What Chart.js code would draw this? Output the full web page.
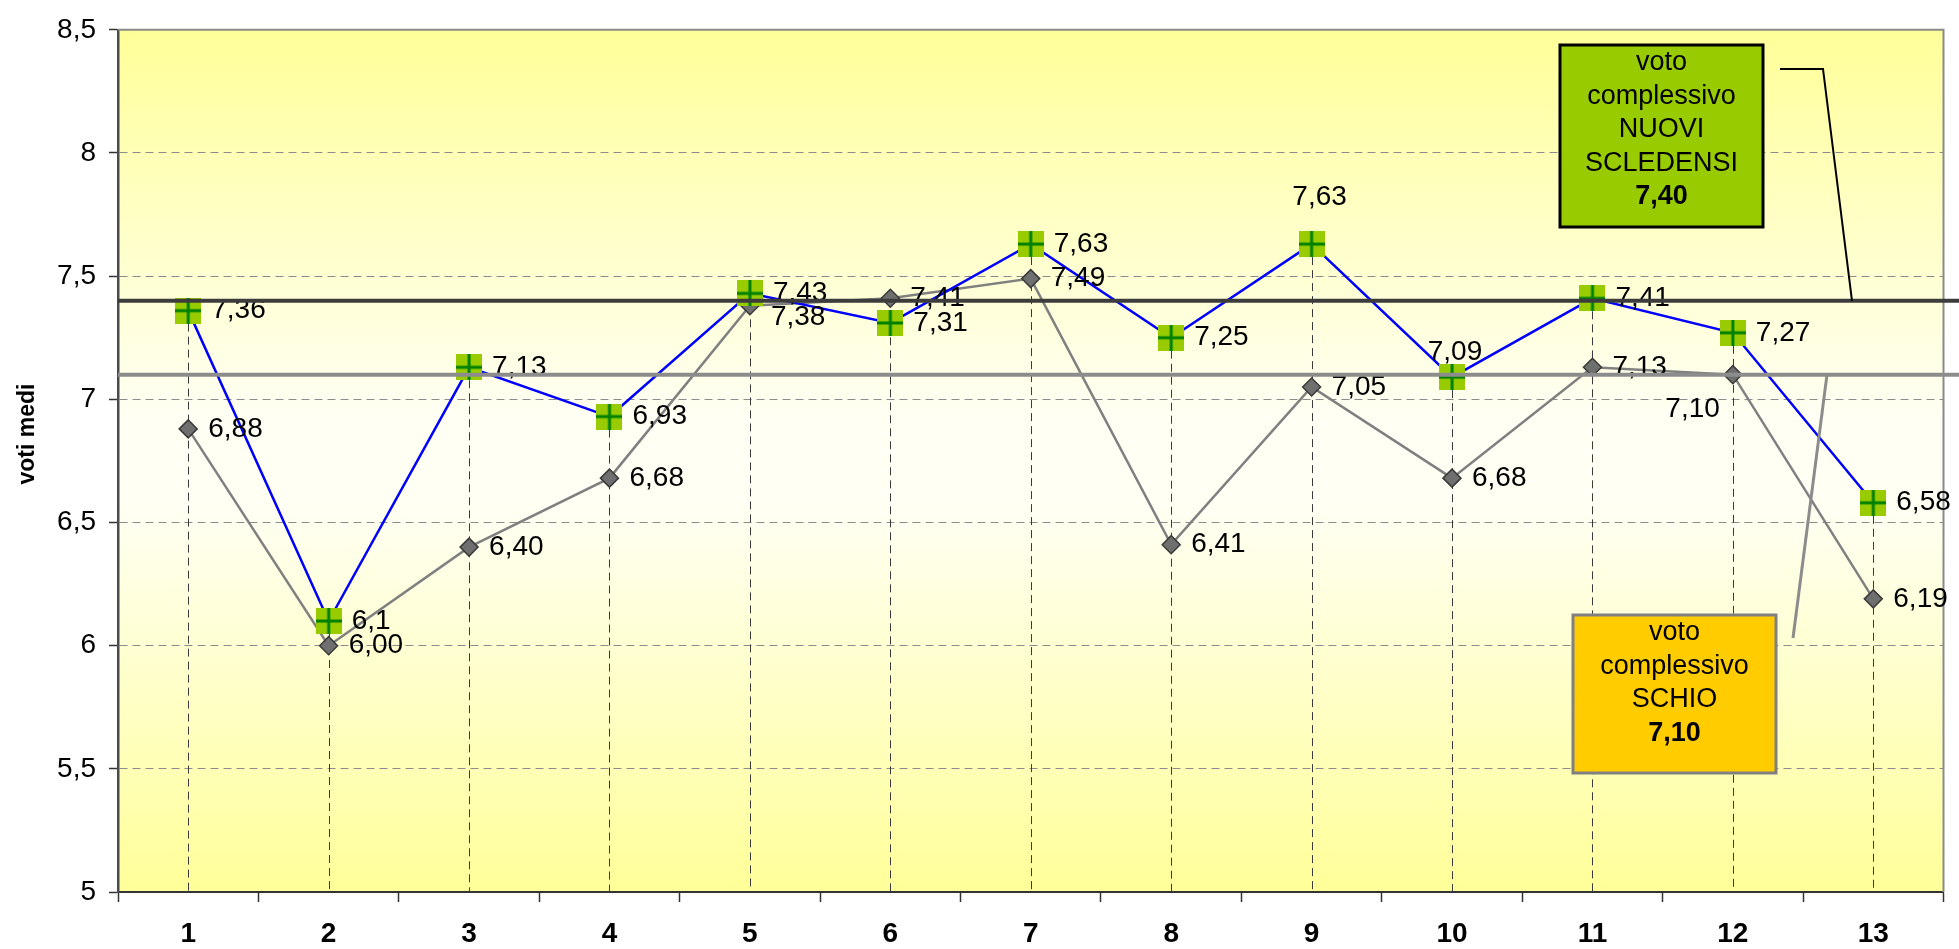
<!DOCTYPE html>
<html lang="it">
<head>
<meta charset="UTF-8">
<title>Voti medi</title>
<script src="https://cdn.jsdelivr.net/npm/chart.js@4.4.1/dist/chart.umd.min.js"></script>
<style>
  html, body { margin: 0; padding: 0; background: #fff; }
  canvas { display: block; }
</style>
</head>
<body>
<canvas id="chart" width="1959" height="949"></canvas>
<script>
const categories = ['1', '2', '3', '4', '5', '6', '7', '8', '9', '10', '11', '12', '13'];
const nuoviScledensi = [7.36, 6.1, 7.13, 6.93, 7.43, 7.31, 7.63, 7.25, 7.63, 7.09, 7.41, 7.27, 6.58];
const schio = [6.88, 6.00, 6.40, 6.68, 7.38, 7.41, 7.49, 6.41, 7.05, 6.68, 7.13, 7.10, 6.19];
const mediaNuovi = 7.40;
const mediaSchio = 7.10;

const FONT = '"Liberation Sans", Arial, sans-serif';
const comma = v => String(v).replace('.', ',');
const comma2 = v => v.toFixed(2).replace('.', ',');

// green square with dark green cross
function plusMarker() {
    const c = document.createElement('canvas');
    c.width = 26; c.height = 26;
    const g = c.getContext('2d');
    g.fillStyle = '#99cc00';
    g.fillRect(0, 0, 26, 26);
    g.fillStyle = '#008000';
    g.fillRect(11.5, 0, 3, 26);
    g.fillRect(0, 11.5, 26, 3);
    return c;
}

const plotBackground = {
    id: 'plotBackground',
    beforeDraw(chart) {
        const { ctx, chartArea: a } = chart;
        const grad = ctx.createLinearGradient(0, a.top, 0, a.bottom);
        grad.addColorStop(0, '#ffff99');
        grad.addColorStop(0.45, '#fffff4');
        grad.addColorStop(0.55, '#fffff4');
        grad.addColorStop(1, '#ffff99');
        ctx.save();
        ctx.fillStyle = grad;
        ctx.fillRect(a.left, a.top, a.right - a.left, a.bottom - a.top);
        ctx.restore();
    }
};

// frame on top/right and dashed drop lines from the highest point of each category
const dropLines = {
    id: 'dropLines',
    beforeDatasetsDraw(chart) {
        const { ctx, chartArea: a, scales: { x, y } } = chart;
        ctx.save();
        ctx.strokeStyle = '#8a8a8a';
        ctx.lineWidth = 2;
        ctx.beginPath();
        ctx.moveTo(a.left, a.top);
        ctx.lineTo(a.right, a.top);
        ctx.lineTo(a.right, a.bottom);
        ctx.stroke();

        ctx.strokeStyle = '#3a3a3a';
        ctx.lineWidth = 1;
        ctx.setLineDash([8, 5]);
        categories.forEach((c, i) => {
            const px = Math.round(x.getPixelForValue(i)) + 0.5;
            const top = y.getPixelForValue(Math.max(nuoviScledensi[i], schio[i]));
            ctx.beginPath();
            ctx.moveTo(px, top);
            ctx.lineTo(px, a.bottom);
            ctx.stroke();
        });
        ctx.restore();
    }
};

const pointLabels = {
    id: 'pointLabels',
    afterDatasetsDraw(chart) {
        const { ctx } = chart;
        const special = {
            0: { 8: ['center', 8, -47], 9: ['center', 3, -25] },
            1: { 4: ['left', 21, 12], 11: ['right', -13, 35] }
        };
        ctx.save();
        ctx.font = '28px ' + FONT;
        ctx.fillStyle = '#000';
        ctx.textBaseline = 'middle';
        chart.data.datasets.forEach((ds, di) => {
            const meta = chart.getDatasetMeta(di);
            const dx = di === 0 ? 23 : 20;
            meta.data.forEach((pt, i) => {
                const txt = di === 0 ? comma(ds.data[i]) : comma2(ds.data[i]);
                const s = special[di][i];
                if (s) {
                    ctx.textAlign = s[0];
                    ctx.fillText(txt, pt.x + s[1], pt.y + s[2]);
                } else {
                    ctx.textAlign = 'left';
                    ctx.fillText(txt, pt.x + dx, pt.y);
                }
            });
        });
        ctx.restore();
    }
};

function drawBox(ctx, x, y, w, h, fill, stroke, lines) {
    ctx.fillStyle = fill;
    ctx.fillRect(x, y, w, h);
    ctx.strokeStyle = stroke;
    ctx.lineWidth = 3;
    ctx.strokeRect(x, y, w, h);
    ctx.fillStyle = '#000';
    ctx.textAlign = 'center';
    ctx.textBaseline = 'middle';
    lines.forEach((ln, i) => {
        ctx.font = (i === lines.length - 1 ? 'bold ' : '') + '27px ' + FONT;
        ctx.fillText(ln, x + w / 2, y + 18 + i * 33.5);
    });
}

// average lines, callout boxes and axis title
const averages = {
    id: 'averages',
    afterDraw(chart) {
        const { ctx, chartArea: a, scales: { y }, width } = chart;
        const yN = y.getPixelForValue(mediaNuovi);
        const yS = y.getPixelForValue(mediaSchio);
        ctx.save();
        ctx.lineWidth = 4;
        ctx.strokeStyle = '#3c3c3c';
        ctx.beginPath(); ctx.moveTo(a.left, yN); ctx.lineTo(width, yN); ctx.stroke();
        ctx.strokeStyle = '#8c8c8c';
        ctx.beginPath(); ctx.moveTo(a.left, yS); ctx.lineTo(width, yS); ctx.stroke();

        ctx.lineWidth = 2;
        ctx.strokeStyle = '#000';
        ctx.beginPath(); ctx.moveTo(1780, 69); ctx.lineTo(1823, 69); ctx.lineTo(1852, yN); ctx.stroke();
        ctx.lineWidth = 3;
        ctx.strokeStyle = '#8c8c8c';
        ctx.beginPath(); ctx.moveTo(1793, 638); ctx.lineTo(1827, yS); ctx.stroke();

        drawBox(ctx, 1560, 45, 203, 182, '#99cc00', '#000',
            ['voto', 'complessivo', 'NUOVI', 'SCLEDENSI', comma2(mediaNuovi)]);
        drawBox(ctx, 1573, 615, 203, 158, '#ffcc00', '#808080',
            ['voto', 'complessivo', 'SCHIO', comma2(mediaSchio)]);

        ctx.translate(28, 434);
        ctx.rotate(-Math.PI / 2);
        ctx.font = 'bold 23px ' + FONT;
        ctx.fillStyle = '#000';
        ctx.textAlign = 'center';
        ctx.textBaseline = 'middle';
        ctx.fillText('voti medi', 0, 0);
        ctx.restore();
    }
};

new Chart(document.getElementById('chart'), {
    type: 'line',
    data: {
        labels: categories,
        datasets: [{
            label: 'NUOVI SCLEDENSI',
            data: nuoviScledensi,
            borderColor: '#0000ff',
            borderWidth: 2.5,
            pointStyle: plusMarker(),
            pointRadius: 13,
            tension: 0
        }, {
            label: 'SCHIO',
            data: schio,
            borderColor: '#808080',
            borderWidth: 2.5,
            pointStyle: 'rectRot',
            pointRadius: 9,
            pointBackgroundColor: '#6f6f6f',
            pointBorderColor: '#3a3a3a',
            pointBorderWidth: 1.5,
            tension: 0
        }]
    },
    options: {
        responsive: false,
        animation: false,
        devicePixelRatio: 1,
        layout: { padding: { top: 24, right: 12, left: 0, bottom: 0 } },
        plugins: {
            legend: { display: false },
            tooltip: { enabled: false }
        },
        scales: {
            x: {
                offset: true,
                grid: {
                    offset: true,
                    drawOnChartArea: false,
                    tickLength: 10,
                    tickColor: '#333',
                    tickWidth: 1.5
                },
                border: { color: '#333', width: 2 },
                ticks: {
                    color: '#000',
                    padding: 15,
                    font: { family: FONT, size: 28, weight: 'bold' }
                },
                afterFit(s) { s.height = 57; }
            },
            y: {
                min: 5,
                max: 8.5,
                grid: {
                    color: '#8c8c8c',
                    lineWidth: 1,
                    tickLength: 9,
                    tickColor: '#333',
                    tickWidth: 1.5,
                    tickBorderDash: []
                },
                border: { color: '#4a4a4a', width: 2.5, dash: [8, 5] },
                ticks: {
                    stepSize: 0.5,
                    color: '#000',
                    padding: 13,
                    font: { family: FONT, size: 28 },
                    callback: v => comma(v)
                },
                afterFit(s) { s.width = 118; }
            }
        }
    },
    plugins: [plotBackground, dropLines, pointLabels, averages]
});
</script>
</body>
</html>
